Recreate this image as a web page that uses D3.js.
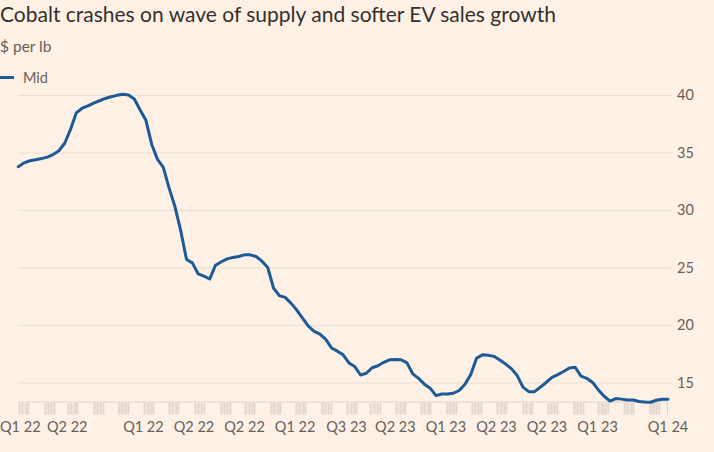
<!DOCTYPE html>
<html><head><meta charset="utf-8">
<script src="https://cdn.jsdelivr.net/npm/d3@7"></script>
<style>
html,body{margin:0;padding:0;background:#fff1e5;}
svg{display:block;}
text{font-family:Lato,"Noto Sans",sans-serif;}
</style></head>
<body>
<svg id="chart" width="714" height="452"></svg>
<script>
const title = "Cobalt crashes on wave of supply and softer EV sales growth";
const subtitle = "$ per lb";
const seriesName = "Mid";

const dates = [
"2022-01-01","2022-01-08","2022-01-15","2022-01-22","2022-01-29","2022-02-05","2022-02-12","2022-02-19","2022-02-26",
"2022-03-05","2022-03-12","2022-03-19","2022-03-26","2022-04-02","2022-04-09","2022-04-16","2022-04-23","2022-04-30",
"2022-05-07","2022-05-14","2022-05-21","2022-05-28","2022-06-04","2022-06-11","2022-06-18","2022-06-25","2022-07-02",
"2022-07-09","2022-07-16","2022-07-23","2022-07-30","2022-08-06","2022-08-13","2022-08-20","2022-08-27","2022-09-03",
"2022-09-10","2022-09-17","2022-09-24","2022-10-01","2022-10-08","2022-10-15","2022-10-22","2022-10-29","2022-11-05",
"2022-11-12","2022-11-19","2022-11-26","2022-12-03","2022-12-10","2022-12-17","2022-12-24","2022-12-31",
"2023-01-07","2023-01-14","2023-01-21","2023-01-28","2023-02-04","2023-02-11","2023-02-18","2023-02-25","2023-03-04",
"2023-03-11","2023-03-18","2023-03-25","2023-04-01","2023-04-08","2023-04-15","2023-04-22","2023-04-29","2023-05-06",
"2023-05-13","2023-05-20","2023-05-27","2023-06-03","2023-06-10","2023-06-17","2023-06-24","2023-07-01","2023-07-08",
"2023-07-15","2023-07-22","2023-07-29","2023-08-05","2023-08-12","2023-08-19","2023-08-26","2023-09-02","2023-09-09",
"2023-09-16","2023-09-23","2023-09-30","2023-10-07","2023-10-14","2023-10-21","2023-10-28","2023-11-04","2023-11-11",
"2023-11-18","2023-11-25","2023-12-02","2023-12-09","2023-12-16","2023-12-23","2023-12-30",
"2024-01-06","2024-01-13","2024-01-20","2024-01-27","2024-02-03","2024-02-10","2024-02-17","2024-02-24"
];

const mid = [
33.77,34.10,34.28,34.37,34.47,34.60,34.82,35.15,35.80,
37.00,38.45,38.85,39.05,39.30,39.50,39.70,39.85,39.97,
40.07,40.00,39.65,38.70,37.80,35.70,34.40,33.70,31.90,
30.30,28.20,25.70,25.40,24.45,24.25,24.00,25.20,25.50,
25.75,25.86,25.95,26.10,26.10,25.95,25.55,25.00,23.20,
22.55,22.40,21.90,21.30,20.60,19.90,19.45,19.20,
18.75,18.00,17.72,17.40,16.70,16.38,15.65,15.80,16.28,
16.45,16.75,16.97,17.00,16.97,16.70,15.75,15.35,14.85,
14.50,13.85,14.00,14.00,14.06,14.30,14.85,15.70,17.10,
17.40,17.36,17.27,16.95,16.60,16.20,15.60,14.60,14.20,
14.20,14.60,15.00,15.45,15.68,15.95,16.25,16.32,15.55,
15.36,15.00,14.35,13.80,13.38,13.60,13.55,13.48,13.48,
13.35,13.30,13.28,13.45,13.53,13.53,13.53
];

const yTicks = [15, 20, 25, 30, 35, 40];
const xLabelDates = ["2022-01-01","2022-03-01","2022-06-01","2022-08-01","2022-10-01","2022-12-01","2023-02-01",
                     "2023-04-01","2023-06-01","2023-08-01","2023-10-01","2023-12-01","2024-02-24"];
const xLabelTexts = ["Q1 22","Q2 22","Q1 22","Q2 22","Q2 22","Q1 22","Q3 23","Q2 23","Q1 23","Q2 23","Q2 23","Q1 23","Q1 24"];

const parse = d3.timeParse("%Y-%m-%d");
const data = dates.map((d, i) => ({date: parse(d), value: mid[i]}));

const svg = d3.select("#chart");
const x = d3.scaleTime().domain([parse(dates[0]), parse(dates[dates.length - 1])]).range([18.3, 668]);
const y = d3.scaleLinear().domain([13.3, 40]).range([402, 95]);

const textCol = "#66605c";

// Title
const t = svg.append("text").attr("x", 0).attr("y", 22).attr("fill", "#33302e")
  .attr("font-size", 20).text(title);
const tw = t.node().getComputedTextLength();
t.attr("font-size", 20 * 556 / tw);

svg.append("text").attr("x", 0).attr("y", 52).attr("fill", textCol).attr("font-size", 15.5).text(subtitle);

// Legend
svg.append("line").attr("x1", 0).attr("x2", 14).attr("y1", 77.5).attr("y2", 77.5)
  .attr("stroke", "#1d5a98").attr("stroke-width", 3);
svg.append("text").attr("x", 23).attr("y", 83).attr("fill", textCol).attr("font-size", 14.5).text(seriesName);

// Gridlines & y labels
const yAxis = svg.append("g").attr("transform", `translate(672,0)`)
  .call(d3.axisRight(y).tickValues(yTicks).tickSize(-(672 - 18)).tickPadding(5).tickFormat(d3.format("d")));
yAxis.select(".domain").remove();
yAxis.selectAll(".tick line").attr("stroke", "#eadfd5").attr("stroke-width", 1);
yAxis.selectAll(".tick text").attr("fill", textCol).attr("font-size", 14.5)
  .attr("font-family", "Lato,'Noto Sans',sans-serif");

// Baseline
svg.append("line").attr("x1", 18).attr("x2", 668).attr("y1", y(13.3)).attr("y2", y(13.3))
  .attr("stroke", "#ddd3cb").attr("stroke-width", 1);

// Month tick clusters
const months = d3.timeMonth.range(parse("2022-01-01"), parse("2024-02-24"));
const tickG = svg.append("g");
months.forEach(m => {
  const x0 = x(m), x1 = x(d3.timeDay.offset(m, 13));
  tickG.append("rect").attr("x", x0).attr("y", 402.5).attr("width", x1 - x0).attr("height", 12)
    .attr("fill", "#f1e6dd");
  [1, 5, 9, 12].forEach(dd => {
    const xx = Math.round(x(d3.timeDay.offset(m, dd))) + 0.5;
    tickG.append("line").attr("x1", xx).attr("x2", xx).attr("y1", 402.5).attr("y2", 414.5)
      .attr("stroke", "#e0d6cf").attr("stroke-width", 1.5);
  });
});
const xe = Math.round(x(parse(dates[dates.length - 1]))) - 0.5;
tickG.append("line").attr("x1", xe).attr("x2", xe).attr("y1", 402.5).attr("y2", 414.5)
  .attr("stroke", "#e0d6cf").attr("stroke-width", 1);

// X labels
svg.append("g").selectAll("text").data(xLabelDates).join("text")
  .attr("x", (d, i) => i === 0 ? 0 : x(parse(d)))
  .attr("y", 432)
  .attr("text-anchor", (d, i) => i === 0 ? "start" : "middle")
  .attr("fill", textCol).attr("font-size", 14.5).text((d, i) => xLabelTexts[i]);

// Line
const line = d3.line().x(d => x(d.date)).y(d => y(d.value)).curve(d3.curveLinear);
svg.append("path").datum(data).attr("d", line).attr("fill", "none")
  .attr("stroke", "#1d5a98").attr("stroke-width", 3).attr("stroke-linejoin", "round").attr("stroke-linecap", "round");
</script>
</body></html>
